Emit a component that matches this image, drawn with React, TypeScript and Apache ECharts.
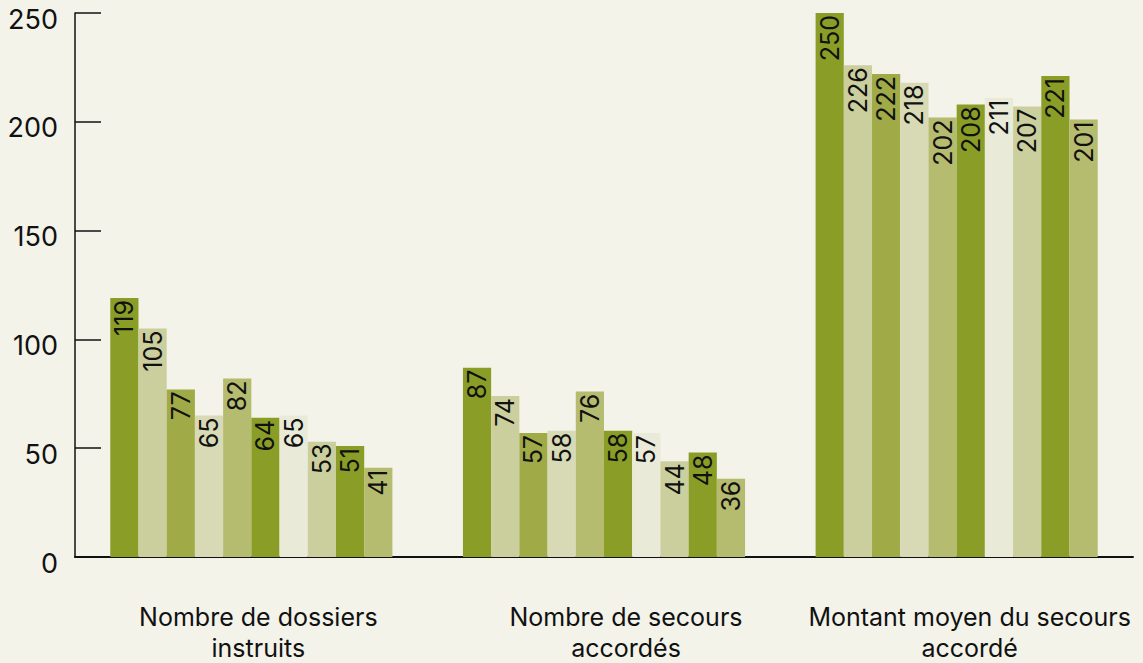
import React, { useEffect, useRef } from "react";
import * as echarts from "echarts";

const categories = [
  "Nombre de dossiers\ninstruits",
  "Nombre de secours\naccordés",
  "Montant moyen du secours\naccordé",
];

// horizontal nudge of each category label (px, to the right)
const labelShift = [7, 22, 13];

const seriesValues: number[][] = [
  [119, 87, 250],
  [105, 74, 226],
  [77, 57, 222],
  [65, 58, 218],
  [82, 76, 202],
  [64, 58, 208],
  [65, 57, 211],
  [53, 44, 207],
  [51, 48, 221],
  [41, 36, 201],
];

const colors = [
  "#8a9e27",
  "#cbcf9e",
  "#a0aa47",
  "#d8dab6",
  "#b5bc70",
  "#8a9e27",
  "#e9ebd8",
  "#cbcf9e",
  "#8a9e27",
  "#b5bc70",
];

const yTicks = [0, 50, 100, 150, 200, 250];

export default function App() {
  const ref = useRef<HTMLDivElement>(null);
  useEffect(() => {
    if (!ref.current) return;
    const chart = echarts.init(ref.current, undefined, { renderer: "svg" });
    chart.setOption({
      animation: false,
      backgroundColor: "#f3f3e9",
      textStyle: { fontFamily: "Inter, 'Noto Sans', sans-serif" },
      grid: { left: 75, right: 10, top: 13, bottom: 106, containLabel: false },
      xAxis: {
        type: "category",
        data: categories.map((c, i) => ({
          value: c,
          textStyle: { padding: [0, 0, 0, labelShift[i] * 2] },
        })),
        axisLine: { show: true, lineStyle: { color: "#111", width: 2 } },
        axisTick: { show: false },
        axisLabel: {
          fontSize: 25,
          lineHeight: 31,
          color: "#111",
          margin: 44,
          interval: 0,
        },
      },
      yAxis: {
        type: "value",
        min: yTicks[0],
        max: yTicks[yTicks.length - 1],
        interval: 50,
        splitLine: { show: false },
        axisLine: { show: true, lineStyle: { color: "#111", width: 1.5 } },
        axisTick: { show: true, inside: true, length: 26, lineStyle: { color: "#111", width: 1.5 } },
        axisLabel: {
          fontSize: 27,
          color: "#111",
          margin: 17,
          verticalAlign: "top",
          lineHeight: 12,
        },
      },
      series: seriesValues.map((vals, i) => ({
        type: "bar",
        name: "s" + i,
        data: vals,
        barGap: "0%",
        barCategoryGap: "20%",
        itemStyle: { color: colors[i] },
        label: {
          show: true,
          position: "insideTop",
          rotate: 90,
          align: "right",
          verticalAlign: "middle",
          distance: 2,
          fontSize: 25,
          color: "#111",
        },
      })),
    });
    return () => chart.dispose();
  }, []);
  return (
    <div
      ref={ref}
      style={{ position: "fixed", left: 0, top: 0, width: 1143, height: 663 }}
    />
  );
}
